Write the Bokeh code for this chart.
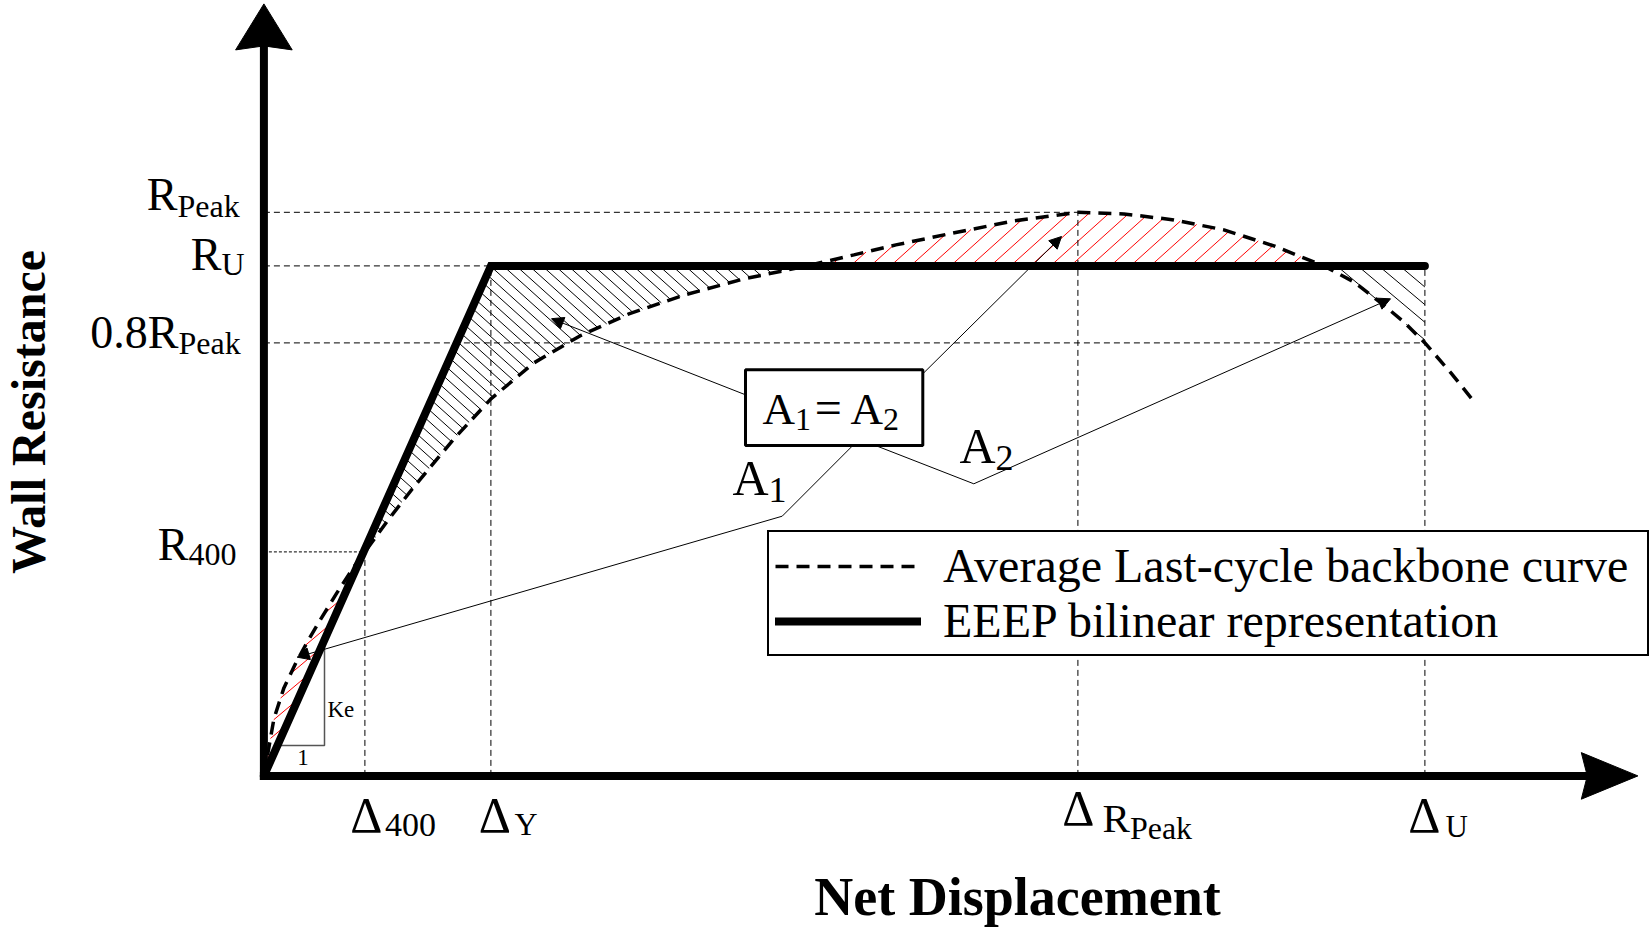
import math
from bokeh.plotting import figure
from bokeh.models import Range1d, Arrow, NormalHead, Legend, LegendItem
from bokeh.core.properties import value
from bokeh.embed import file_html
from bokeh.resources import INLINE

# ------------------------------------------------------------------ data
# schematic units (displacement / resistance), origin at the axes corner
D400, DY, DRPEAK, DU = 101.0, 227.0, 814.0, 1161.0          # displacements
R400, RU, R08PEAK, RPEAK = 224.0, 510.0, 433.0, 563.6        # resistances

# average last-cycle backbone curve
CURVE_X = [0, 10, 20, 32, 44, 57, 73, 90, 101, 125, 150, 190, 227, 270, 316,
           365, 421, 480, 543, 590, 632, 685, 750, 814, 860, 910, 960, 1010,
           1060, 1090, 1117, 1140, 1161, 1187, 1212]
CURVE_Y = [0, 57, 88, 113, 135, 157, 183, 209, 224, 257, 289, 337, 377, 413, 440,
           462, 481, 497, 510, 521, 531, 542, 555, 563.6, 562, 556, 546, 530,
           510, 494, 473, 454, 433, 403, 372]

# EEEP bilinear representation
EEEP_X = [0, DY, DU]
EEEP_Y = [0, RU, RU]

# tick labels (main text, subscript)
Y_LABELS = [("R", "Peak"), ("R", "U"), ("0.8R", "Peak"), ("R", "400")]
Y_VALUES = [RPEAK, RU, R08PEAK, R400]
X_LABELS = [("Δ", "400"), ("Δ", "Y"), ("Δ", "R", "Peak"), ("Δ", "U")]
X_VALUES = [D400, DY, DRPEAK, DU]

LEGEND_LABELS = ["Average Last-cycle backbone curve", "EEEP bilinear representation"]
X_TITLE = "Net Displacement"
Y_TITLE = "Wall Resistance"

# ------------------------------------------------------------------ figure
W, H = 1652, 927
OX, OY = 263.4, 775.4          # origin position inside the canvas (px from left / top)
SERIF = "Liberation Serif"
K_BASE = 0.35                  # baseline correction (fraction of font size)

p = figure(width=W, height=H, x_range=Range1d(-OX, W - OX), y_range=Range1d(OY - H, OY),
           output_backend="svg", toolbar_location=None, min_border=0,
           x_axis_type=None, y_axis_type=None, outline_line_color=None,
           background_fill_color="white", border_fill_color="white")


def txt(x, y, s, size, align="left", bold=False, angle=0.0):
    """place text so that (x, y) is on its baseline"""
    sh = K_BASE * size
    p.text(x=[x - math.sin(angle) * sh], y=[y + math.cos(angle) * sh], text=[s],
           text_font=value(SERIF), text_font_size=f"{size}px",
           text_align=align, text_baseline="alphabetic",
           text_font_style="bold" if bold else "normal", angle=angle, text_color="black")


def hatch(xs, ys, slope, spacing, color):
    """parallel hatch lines y = slope*x + c clipped to the polygon (xs, ys)"""
    n = len(xs)
    cs = [ys[i] - slope * xs[i] for i in range(n)]
    step = abs(slope) * spacing
    k0 = math.floor(min(cs) / step) + 1
    k1 = math.ceil(max(cs) / step)
    x0s, y0s, x1s, y1s = [], [], [], []
    for k in range(k0, k1):
        c = k * step
        hits = []
        for i in range(n):
            px, py = xs[i], ys[i]
            qx, qy = xs[(i + 1) % n], ys[(i + 1) % n]
            fp = py - slope * px - c
            fq = qy - slope * qx - c
            if (fp > 0) != (fq > 0):
                t = fp / (fp - fq)
                hits.append(px + t * (qx - px))
        hits.sort()
        for a, b in zip(hits[0::2], hits[1::2]):
            x0s.append(a); y0s.append(slope * a + c)
            x1s.append(b); y1s.append(slope * b + c)
    p.segment(x0s, y0s, x1s, y1s, line_color=color, line_width=1)


# ------------------------------------------------------------------ hatched areas
i400 = CURVE_X.index(D400)
iL, iR = [i for i, v in enumerate(CURVE_Y) if v == RU]
iU = CURVE_X.index(DU)

hatch(CURVE_X[:i400 + 1], CURVE_Y[:i400 + 1], 0.84, 19, "red")
hatch(CURVE_X[i400:iL + 1] + [DY], CURVE_Y[i400:iL + 1] + [RU], -0.9, 13, "black")
hatch(CURVE_X[iL:iR + 1], CURVE_Y[iL:iR + 1], 0.9, 20, "red")
hatch(CURVE_X[iR:iU + 1] + [DU], CURVE_Y[iR:iU + 1] + [RU], -0.84, 21, "black")

# ------------------------------------------------------------------ guide lines
GUIDE = dict(line_color="black", line_width=1, line_dash="6 4")
p.segment([0, 0, 0], [RPEAK, RU, R08PEAK], [DRPEAK, DY, DU], [RPEAK, RU, R08PEAK], **GUIDE)
p.segment([0], [R400], [D400], [R400], line_color="black", line_width=1, line_dash="3 2")
p.segment(X_VALUES, [0] * 4, X_VALUES, [R400, RU, RPEAK, RU], **GUIDE)

# Ke slope triangle
KE_Y, KE_X2 = 30.4, 60.6
ke_x1 = KE_Y * DY / RU
p.line([ke_x1, KE_X2, KE_X2], [KE_Y, KE_Y, KE_X2 * RU / DY], line_color="#555555", line_width=1.5)
txt((ke_x1 + KE_X2) / 2 + 2, KE_Y - 20, "1", 23, align="center")
txt(KE_X2 + 3, KE_Y + 28, "Ke", 23)

# ------------------------------------------------------------------ curves
r_curve = p.line(CURVE_X, CURVE_Y, line_color="black", line_width=3.5, line_dash="13 8")
r_eeep = p.line(EEEP_X, EEEP_Y, line_color="black", line_width=8, line_cap="round",
                line_join="miter")

# ------------------------------------------------------------------ axes with arrow heads
AX_W = 8
YA_TIP, YA_LEN, YA_HALF, YA_NOTCH = 772.0, 46.0, 28.3, 4.0
XA_TIP, XA_LEN, XA_HALF, XA_NOTCH = 1374.0, 56.6, 23.3, 6.0
p.line([0, 0], [-AX_W / 2, YA_TIP - YA_LEN + YA_NOTCH + 2], line_color="black", line_width=AX_W)
p.line([-AX_W / 2, XA_TIP - XA_LEN + XA_NOTCH + 2], [0, 0], line_color="black", line_width=AX_W)
p.patch([0, YA_HALF, 0, -YA_HALF],
        [YA_TIP, YA_TIP - YA_LEN, YA_TIP - YA_LEN + YA_NOTCH, YA_TIP - YA_LEN],
        fill_color="black", line_color="black")
p.patch([XA_TIP, XA_TIP - XA_LEN, XA_TIP - XA_LEN + XA_NOTCH, XA_TIP - XA_LEN],
        [0, XA_HALF, 0, -XA_HALF], fill_color="black", line_color="black")

# ------------------------------------------------------------------ tick labels
# y labels: (junction x, main baseline shift, subscript baseline shift)
Y_LAYOUT = [(-86.4, 1.8, -4.9), (-42.4, -4.6, -9.6), (-85.4, -5.6, -11.6), (-75.4, -8.6, -13.6)]
for (main, sub), yv, (jx, dm, ds) in zip(Y_LABELS, Y_VALUES, Y_LAYOUT):
    txt(jx, yv + dm, main, 46, align="right")
    txt(jx, yv + ds, sub, 32, align="left")

# x labels: (dx, baseline y, size, align) per piece
X_LAYOUT = [
    [(1.5, -56.6, 50, "center"), (20.0, -60.6, 34, "left")],
    [(4.0, -56.6, 50, "center"), (23.5, -59.6, 32, "left")],
    [(0.5, -49.6, 50, "center"), (52.0, -56.3, 41, "right"), (52.0, -62.9, 32, "left")],
    [(-0.5, -56.3, 50, "center"), (20.5, -61.3, 31, "left")],
]
for pieces, xv, lay in zip(X_LABELS, X_VALUES, X_LAYOUT):
    for s, (dx, yy, size, al) in zip(pieces, lay):
        txt(xv + dx, yy, s, size, align=al)

# axis titles
txt(753.6, -140.0, X_TITLE, 54, align="center", bold=True)
txt(-218.4, 363.9, Y_TITLE, 48, align="center", bold=True, angle=math.pi / 2)

# ------------------------------------------------------------------ A1 = A2 annotation
BOX_L, BOX_R, BOX_B, BOX_T = 481.6, 658.9, 330.4, 406.1
LEADERS = [
    [(BOX_L, 381.1), (287.6, 457.2)],
    [(BOX_R, 402.1), (797.6, 539.4)],
    [(588.9, BOX_B), (518.3, 259.7), (33.3, 118.7)],
    [(611.6, BOX_B), (709.9, 292.1), (1126.6, 477.1)],
]
for pts in LEADERS:
    if len(pts) > 2:
        p.line([q[0] for q in pts[:-1]], [q[1] for q in pts[:-1]], line_color="black", line_width=1)
    (x0, y0), (x1, y1) = pts[-2], pts[-1]
    p.add_layout(Arrow(x_start=x0, y_start=y0, x_end=x1, y_end=y1, line_color="black",
                       line_width=1, end=NormalHead(size=12, fill_color="black",
                                                    line_color="black", line_width=1)))

p.quad(left=[BOX_L], right=[BOX_R], bottom=[BOX_B], top=[BOX_T], fill_color="white",
       line_color="black", line_width=3)
# box text "A1=A2"
txt(531.0, 351.4, "A", 45, align="right")
txt(531.0, 345.4, "1", 32, align="left")
txt(564.5, 351.4, "=", 48, align="center")
txt(619.0, 351.4, "A", 45, align="right")
txt(619.0, 345.4, "2", 32, align="left")
# labels A1 and A2
txt(504.6, 280.4, "A", 50, align="right")
txt(504.6, 273.4, "1", 36, align="left")
txt(731.6, 312.4, "A", 50, align="right")
txt(731.6, 305.4, "2", 36, align="left")

# ------------------------------------------------------------------ legend
legend = Legend(items=[LegendItem(label=LEGEND_LABELS[0], renderers=[r_curve]),
                       LegendItem(label=LEGEND_LABELS[1], renderers=[r_eeep])],
                location=(767, 271), orientation="vertical", margin=0, padding=6, spacing=0,
                glyph_width=146, glyph_height=40, label_standoff=22, label_height=40,
                label_width=698,
                label_text_font=SERIF, label_text_font_size="48px", label_text_color="black",
                border_line_color="black", border_line_width=2.5, border_line_alpha=1.0,
                background_fill_color="white", background_fill_alpha=1.0)
p.add_layout(legend)

open("out.html", "w").write(file_html(p, INLINE))
